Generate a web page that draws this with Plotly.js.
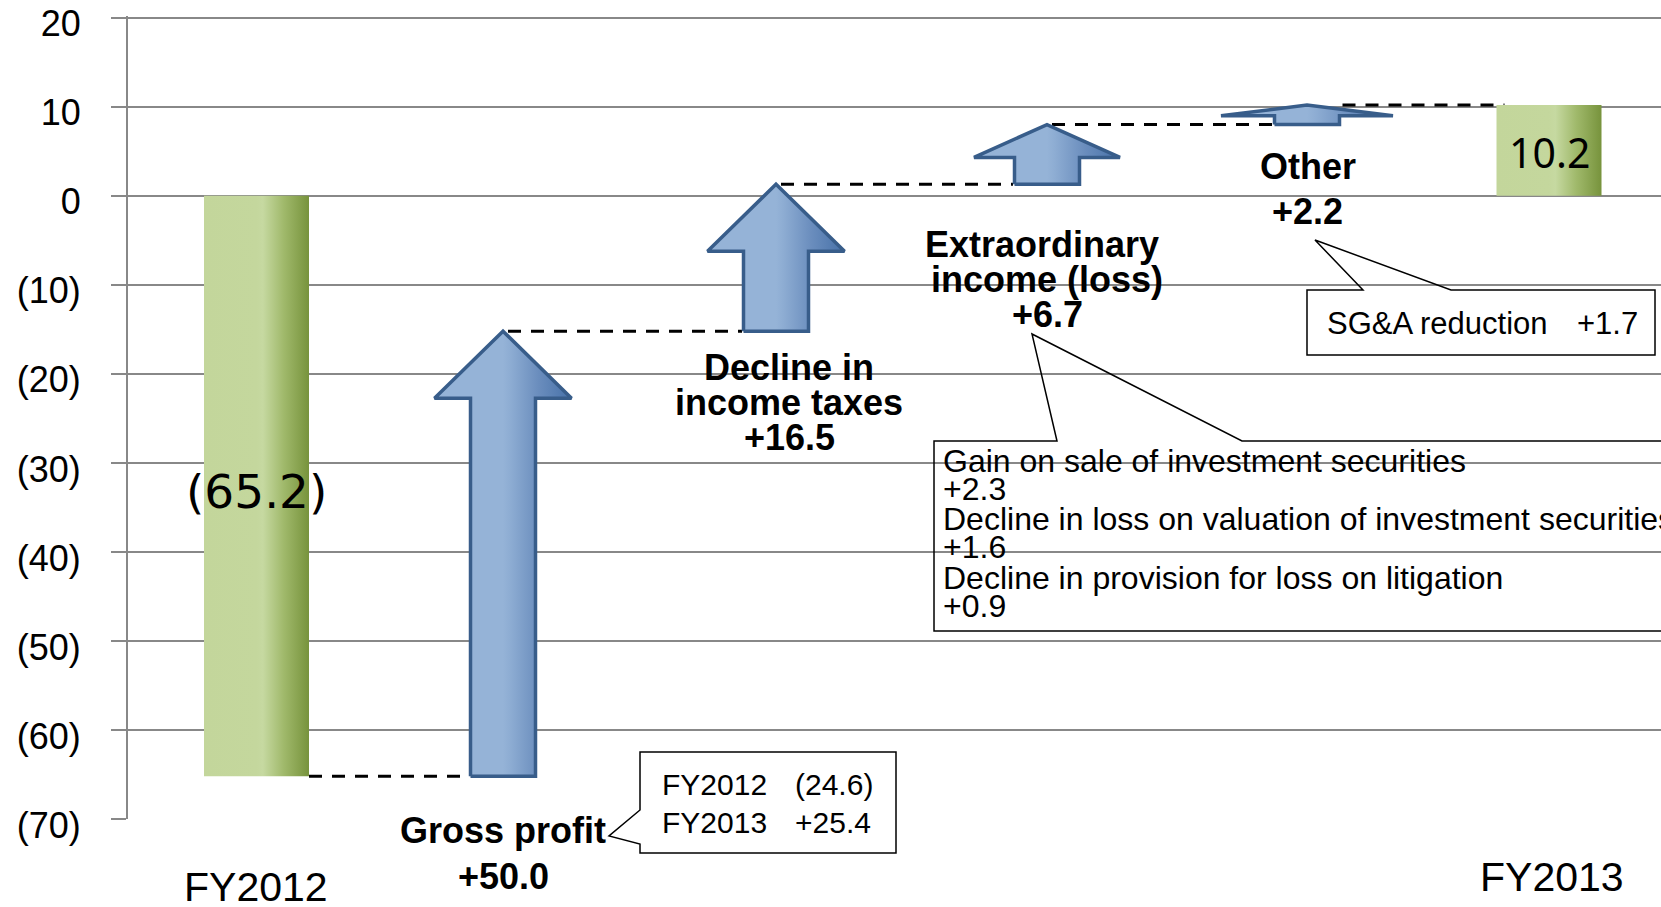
<!DOCTYPE html>
<html>
<head>
<meta charset="utf-8">
<script src="https://cdn.plot.ly/plotly-3.0.1.min.js"></script>
<style>html,body{margin:0;padding:0;background:#fff;}#chart{width:1661px;height:907px;}</style>
</head>
<body>
<div id="chart"></div>
<script>
// ---------------- data ----------------
const categories = ['FY2012', 'Gross profit', 'Decline in<br>income taxes', 'Extraordinary<br>income (loss)', 'Other', 'FY2013'];
const values = [-65.2, 50.0, 16.5, 6.7, 2.2, 10.2];
const measures = ['absolute', 'relative', 'relative', 'relative', 'relative', 'total'];
const tickVals = [20, 10, 0, -10, -20, -30, -40, -50, -60, -70];
const tickText = ['20', '10', '0', '(10)', '(20)', '(30)', '(40)', '(50)', '(60)', '(70)'];
const grossDetailYears = ['FY2012', 'FY2013'];
const grossDetailValues = ['(24.6)', '+25.4'];
const extraDetail = ['Gain on sale of investment securities', '+2.3',
  'Decline in loss on valuation of investment securities', '+1.6',
  'Decline in provision for loss on litigation', '+0.9'];
const otherDetailLabel = 'SG&amp;A reduction';
const otherDetailValue = '+1.7';

// ---------------- layout / style config ----------------
const W = 1661, H = 907;
const M = {l: 128, r: 0, t: 16, b: 88};
const PW = W - M.l - M.r, PH = H - M.t - M.b;
const yRange = [-70, 20.2];
const PXU = PH / (yRange[1] - yRange[0]);
const xCenter = [256.5, 503, 776, 1047, 1307, 1549];   // pixel centres (x axis is in page pixels)
const barHalf = 52.5, shaftHalf = 32.5;
const headHalf = [0, 68.5, 68.5, 73, 86, 0];
const maxHeadPx = 67, headFrac = 0.55;
const labelLayout = [
  null,
  {x: [503, 503], y: [830, 876]},
  {x: [789, 789, 789], y: [367.6, 402.5, 437.5]},
  {x: [1042, 1047, 1047], y: [244.7, 279.7, 314.6]},
  {x: [1307.7, 1307.7], y: [166.3, 211.9]},
  null
];
const font = 'Liberation Sans, Arial, sans-serif';
const X = px => (px - M.l) / PW;
const Y = py => (H - M.b - py) / PH;

// cumulative
const starts = [], ends = [];
let run = 0;
values.forEach((v, i) => {
  if (measures[i] === 'absolute') { starts.push(0); run = v; ends.push(v); }
  else if (measures[i] === 'total') { starts.push(0); ends.push(run); }
  else { starts.push(run); run += v; ends.push(run); }
});

const traces = [];
// connectors
const cx = [], cy = [];
for (let i = 0; i < values.length - 1; i++) {
  let x0;
  if (measures[i] !== 'relative') x0 = xCenter[i] + barHalf;
  else if (i === values.length - 2) x0 = xCenter[i] + shaftHalf + 3;
  else x0 = xCenter[i] + 5;
  let x1 = measures[i + 1] === 'relative' ? xCenter[i + 1] - shaftHalf - 1.5 : xCenter[i + 1] - barHalf + 8;
  cx.push(x0, x1, null); cy.push(ends[i], ends[i], null);
}
traces.push({type: 'scatter', mode: 'lines', x: cx, y: cy, hoverinfo: 'skip',
  line: {color: '#000', width: 3, dash: '13px,10px'}});

const greenScale = [[0, '#c3d69b'], [0.5, '#c4d79d'], [0.56, '#c6d9a1'], [0.76, '#a0b96b'], [1, '#77933c']];
const blueScale = [[0, '#95b3d7'], [0.5, '#95b3d7'], [0.55, '#8eadd3'], [0.76, '#6a8dbd'], [1, '#4771a8']];

values.forEach((v, i) => {
  const xc = xCenter[i];
  if (measures[i] !== 'relative') {
    const y0 = starts[i], y1 = ends[i];
    traces.push({type: 'scatter', mode: 'lines', fill: 'toself', hoverinfo: 'skip',
      x: [xc - barHalf, xc - barHalf, xc + barHalf, xc + barHalf, xc - barHalf],
      y: [y0, y1, y1, y0, y0], line: {width: 0, color: 'rgba(0,0,0,0)'},
      fillcolor: '#c3d69b', fillgradient: {type: 'horizontal', colorscale: greenScale}});
  } else {
    const y0 = starts[i], y1 = ends[i];
    const lenPx = Math.abs(y1 - y0) * PXU;
    const hl = Math.min(maxHeadPx, headFrac * lenPx) / PXU;
    const yb = y1 - hl, hh = headHalf[i];
    traces.push({type: 'scatter', mode: 'lines', fill: 'toself', hoverinfo: 'skip',
      x: [xc - shaftHalf, xc - shaftHalf, xc - hh, xc, xc + hh, xc + shaftHalf, xc + shaftHalf, xc - shaftHalf],
      y: [y0, yb, yb, y1, yb, yb, y0, y0],
      line: {width: 3.5, color: '#385d8a'},
      fillcolor: '#95b3d7', fillgradient: {type: 'horizontal', colorscale: blueScale}});
  }
});

// annotations
const anns = [];
function ann(text, px, py, o) {
  o = o || {};
  anns.push({xref: 'paper', yref: 'paper', x: X(px), y: Y(py), text: text, showarrow: false,
    xanchor: o.xanchor || 'center', yanchor: 'middle', align: o.xanchor === 'left' ? 'left' : 'center',
    font: {family: o.family || font, size: o.size || 30, color: '#000', weight: o.weight || 'normal'}});
}
const fmtTotal = v => v < 0 ? '(' + Math.abs(v).toFixed(1) + ')' : v.toFixed(1);
const fmtDelta = v => (v >= 0 ? '+' : '') + v.toFixed(1);

// category labels
values.forEach((v, i) => {
  const L = labelLayout[i];
  if (!L) return;
  const lines = categories[i].split('<br>').concat([fmtDelta(v)]);
  lines.forEach((t, k) => ann(t, L.x[k], L.y[k], {size: 36, weight: 'bold'}));
});
ann(categories[0], 256, 887, {size: 41});
ann(categories[5], 1552, 877, {size: 41});
ann(fmtTotal(ends[0]), 256.5, 491.7, {size: 47, family: 'DejaVu Sans, sans-serif'});
ann(fmtTotal(ends[5]), 1549, 152, {size: 41, family: 'Noto Sans, sans-serif'});

// callout texts
const grossRows = [784.7, 822];
grossDetailYears.forEach((t, k) => {
  ann(t, 660, grossRows[k], {xanchor: 'left', size: 30});
  ann(grossDetailValues[k], 793, grossRows[k], {xanchor: 'left', size: 30});
});
const extraRows = [461, 489, 518.5, 547, 577.5, 605.5];
extraDetail.forEach((t, k) => ann(t, 941, extraRows[k], {xanchor: 'left', size: 32}));
ann(otherDetailLabel, 1325, 323, {xanchor: 'left', size: 31});
ann(otherDetailValue, 1575, 323, {xanchor: 'left', size: 31});

// callout outlines
function pathOf(pts) {
  return pts.map((p, k) => (k ? 'L' : 'M') + X(p[0]).toFixed(5) + ',' + Y(p[1]).toFixed(5)).join(' ') + ' Z';
}
const calloutLine = {color: '#000', width: 1.5};
const shapes = [
  {type: 'path', xref: 'paper', yref: 'paper', line: calloutLine, fillcolor: 'rgba(0,0,0,0)',
    path: pathOf([[640, 752], [896, 752], [896, 853], [640, 853], [640, 844], [609, 836], [640, 810]])},
  {type: 'path', xref: 'paper', yref: 'paper', line: calloutLine, fillcolor: 'rgba(0,0,0,0)',
    path: pathOf([[934, 441], [1057, 441], [1032, 334], [1242, 441], [1720, 441], [1720, 631], [934, 631]])},
  {type: 'path', xref: 'paper', yref: 'paper', line: calloutLine, fillcolor: 'rgba(0,0,0,0)',
    path: pathOf([[1307, 290], [1363, 290], [1315, 240], [1451, 290], [1655, 290], [1655, 355], [1307, 355]])}
];

const layout = {
  width: W, height: H, margin: M, showlegend: false,
  paper_bgcolor: '#fff', plot_bgcolor: '#fff', hovermode: false,
  xaxis: {range: [M.l, W - M.r], showgrid: false, zeroline: false, showline: false,
    showticklabels: false, ticks: '', fixedrange: true},
  yaxis: {range: yRange, tickvals: tickVals, ticktext: tickText, showgrid: true,
    gridcolor: '#888888', gridwidth: 2, zeroline: false, showline: true, linecolor: '#888888',
    linewidth: 2, ticks: 'outside', ticklen: 15, tickwidth: 2, tickcolor: '#888888',
    ticklabelstandoff: 23, ticklabelshift: 6,
    tickfont: {family: font, size: 36, color: '#000'}, fixedrange: true},
  annotations: anns,
  shapes: shapes
};
Plotly.newPlot('chart', traces, layout, {displayModeBar: false, staticPlot: true});
</script>
</body>
</html>
